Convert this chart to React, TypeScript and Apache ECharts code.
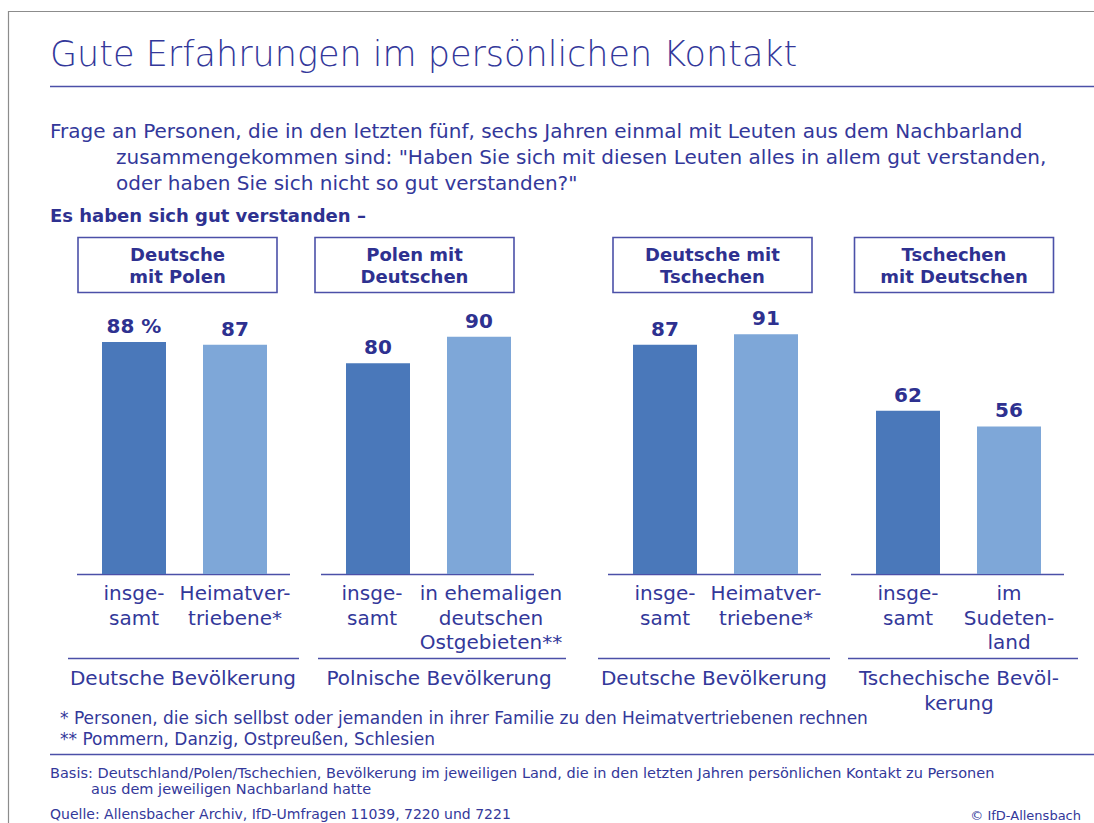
import React, { useEffect, useRef } from 'react';
import * as echarts from 'echarts';

// ---------- data ----------
const groupTitles = ['Deutsche\nmit Polen', 'Polen mit\nDeutschen', 'Deutsche mit\nTschechen', 'Tschechen\nmit Deutschen'];
const groupCategories = [
  ['insge-\nsamt', 'Heimatver-\ntriebene*'],
  ['insge-\nsamt', 'in ehemaligen\ndeutschen\nOstgebieten**'],
  ['insge-\nsamt', 'Heimatver-\ntriebene*'],
  ['insge-\nsamt', 'im\nSudeten-\nland'],
];
const totalValues = [88, 80, 87, 62];
const subgroupValues = [87, 90, 91, 56];
const populationLabels = ['Deutsche Bevölkerung', 'Polnische Bevölkerung', 'Deutsche Bevölkerung', 'Tschechische Bevöl-\nkerung'];

const titleText = 'Gute Erfahrungen im persönlichen Kontakt';
const questionLine1 = 'Frage an Personen, die in den letzten fünf, sechs Jahren einmal mit Leuten aus dem Nachbarland';
const questionRest = 'zusammengekommen sind: "Haben Sie sich mit diesen Leuten alles in allem gut verstanden,\noder haben Sie sich nicht so gut verstanden?"';
const leadText = 'Es haben sich gut verstanden –';
const footnote1 = '* Personen, die sich sellbst oder jemanden in ihrer Familie zu den Heimatvertriebenen rechnen';
const footnote2 = '** Pommern, Danzig, Ostpreußen, Schlesien';
const basisLine1 = 'Basis: Deutschland/Polen/Tschechien, Bevölkerung im jeweiligen Land, die in den letzten Jahren persönlichen Kontakt zu Personen';
const basisLine2 = 'aus dem jeweiligen Nachbarland hatte';
const sourceText = 'Quelle: Allensbacher Archiv, IfD-Umfragen 11039, 7220 und 7221';
const copyrightText = '© IfD-Allensbach';

// ---------- layout / style ----------
const FONT = '"DejaVu Sans", sans-serif';
const TEXT = '#33389a';
const DARK_TEXT = '#2e3190';
const LINE = '#4b50a8';
const BAR_DARK = '#4a78ba';
const BAR_LIGHT = '#7ea7d8';

const W = 1094;
const H = 823;
const gridLefts = [83.5, 327.5, 614.5, 857.5];
const gridWidth = 202;
const gridTop = 310.5;
const baseY = 574;
const boxCenters = [177.5, 414.5, 712.5, 954];
const boxWidth = 199;
const popLines = [[68, 299], [318, 566], [598, 830], [848, 1078]];
const popLabelCenters = [183, 439, 714, 959];
// horizontal shift of category labels (px) where the reference is off-centre
const labelShifts = [[0, 0], [-6, 12], [0, 0], [0, 0]];

export default function App() {
  const ref = useRef<HTMLDivElement>(null);

  useEffect(() => {
    if (!ref.current) return;
    const chart = echarts.init(ref.current, undefined, { renderer: 'svg', width: W, height: H });

    const grids = gridLefts.map((left) => ({
      left,
      width: gridWidth,
      top: gridTop,
      height: baseY - gridTop,
      containLabel: false,
    }));

    const xAxes = groupCategories.map((cats, i) => ({
      type: 'category',
      gridIndex: i,
      data: cats.map((c, j) => {
        const s = labelShifts[i][j];
        return s === 0
          ? c
          : { value: c, textStyle: { padding: s > 0 ? [0, 0, 0, 2 * s] : [0, -2 * s, 0, 0] } };
      }),
      axisLine: { show: false },
      axisTick: { show: false },
      axisLabel: {
        interval: 0,
        margin: 7,
        fontFamily: FONT,
        fontSize: 20,
        lineHeight: 24.5,
        color: TEXT,
        align: 'center',
      },
    }));

    const yAxes = groupCategories.map((_, i) => ({
      type: 'value',
      gridIndex: i,
      min: 0,
      max: 100,
      show: false,
      splitLine: { show: false },
    }));

    const series = groupCategories.map((_, i) => ({
      type: 'bar',
      xAxisIndex: i,
      yAxisIndex: i,
      barWidth: 64,
      data: [
        {
          value: totalValues[i],
          itemStyle: { color: BAR_DARK },
          label: i === 0 ? { formatter: '{c} %' } : undefined,
        },
        { value: subgroupValues[i], itemStyle: { color: BAR_LIGHT } },
      ],
      label: {
        show: true,
        position: 'top',
        distance: 6,
        fontFamily: FONT,
        fontSize: 20,
        fontWeight: 'bold',
        color: DARK_TEXT,
      },
    }));

    const graphics: any[] = [];
    // frame
    graphics.push({
      type: 'rect',
      shape: { x: 8.5, y: 11.5, width: 1200, height: 900 },
      style: { fill: 'none', stroke: '#8c8c8c', lineWidth: 1.2 },
      silent: true,
    });
    // title
    graphics.push({
      type: 'text',
      x: 50,
      y: 54,
      style: { text: titleText, fontFamily: FONT, fontSize: 35, fontWeight: 200, fill: TEXT, verticalAlign: 'middle' },
    });
    graphics.push({
      type: 'line',
      shape: { x1: 50, y1: 86.5, x2: W, y2: 86.5 },
      style: { stroke: LINE, lineWidth: 1.3 },
    });
    // question
    graphics.push({
      type: 'text',
      x: 50,
      y: 131,
      style: { text: questionLine1, fontFamily: FONT, fontSize: 20, fill: TEXT, verticalAlign: 'middle' },
    });
    graphics.push({
      type: 'text',
      x: 116,
      y: 170,
      style: { text: questionRest, fontFamily: FONT, fontSize: 20, lineHeight: 26, fill: TEXT, verticalAlign: 'middle' },
    });
    // lead
    graphics.push({
      type: 'text',
      x: 50,
      y: 215,
      style: { text: leadText, fontFamily: FONT, fontSize: 18, fontWeight: 'bold', fill: DARK_TEXT, verticalAlign: 'middle' },
    });

    // header boxes
    groupTitles.forEach((t, i) => {
      graphics.push({
        type: 'rect',
        shape: { x: boxCenters[i] - boxWidth / 2, y: 237.5, width: boxWidth, height: 55 },
        style: { fill: '#fff', stroke: LINE, lineWidth: 1.6 },
      });
      graphics.push({
        type: 'text',
        x: boxCenters[i],
        y: 265.5,
        style: {
          text: t,
          fontFamily: FONT,
          fontSize: 18,
          fontWeight: 'bold',
          lineHeight: 22,
          fill: DARK_TEXT,
          align: 'center',
          verticalAlign: 'middle',
        },
      });
    });

    // baselines under bars
    gridLefts.forEach((left) => {
      graphics.push({
        type: 'line',
        shape: { x1: left - 6.5, y1: baseY + 0.5, x2: left + gridWidth + 4.5, y2: baseY + 0.5 },
        style: { stroke: LINE, lineWidth: 1.6 },
      });
    });

    // population lines + labels
    popLines.forEach(([x1, x2], i) => {
      graphics.push({
        type: 'line',
        shape: { x1, y1: 658.5, x2, y2: 658.5 },
        style: { stroke: LINE, lineWidth: 1.6 },
      });
      graphics.push({
        type: 'text',
        x: popLabelCenters[i],
        y: 665,
        style: {
          text: populationLabels[i],
          fontFamily: FONT,
          fontSize: 20,
          lineHeight: 25,
          fill: TEXT,
          align: 'center',
          verticalAlign: 'top',
        },
      });
    });

    // footnotes
    graphics.push({
      type: 'text',
      x: 60,
      y: 718,
      style: { text: footnote1, fontFamily: FONT, fontSize: 17, fill: TEXT, verticalAlign: 'middle' },
    });
    graphics.push({
      type: 'text',
      x: 60,
      y: 739,
      style: { text: footnote2, fontFamily: FONT, fontSize: 17, fill: TEXT, verticalAlign: 'middle' },
    });
    graphics.push({
      type: 'line',
      shape: { x1: 50, y1: 754.5, x2: W, y2: 754.5 },
      style: { stroke: LINE, lineWidth: 1.3 },
    });
    graphics.push({
      type: 'text',
      x: 50,
      y: 773,
      style: { text: basisLine1, fontFamily: FONT, fontSize: 14.5, fill: TEXT, verticalAlign: 'middle' },
    });
    graphics.push({
      type: 'text',
      x: 91,
      y: 789,
      style: { text: basisLine2, fontFamily: FONT, fontSize: 14.5, fill: TEXT, verticalAlign: 'middle' },
    });
    graphics.push({
      type: 'text',
      x: 50,
      y: 814,
      style: { text: sourceText, fontFamily: FONT, fontSize: 14, fill: TEXT, verticalAlign: 'middle' },
    });
    graphics.push({
      type: 'text',
      x: 1081,
      y: 815,
      style: { text: copyrightText, fontFamily: FONT, fontSize: 13, fill: TEXT, align: 'right', verticalAlign: 'middle' },
    });

    chart.setOption({
      animation: false,
      backgroundColor: '#ffffff',
      grid: grids,
      xAxis: xAxes,
      yAxis: yAxes,
      series,
      graphic: { elements: graphics },
    } as any);

    return () => chart.dispose();
  }, []);

  return (
    <div
      ref={ref}
      style={{ position: 'absolute', left: 0, top: 0, width: W, height: H, background: '#fff' }}
    />
  );
}
